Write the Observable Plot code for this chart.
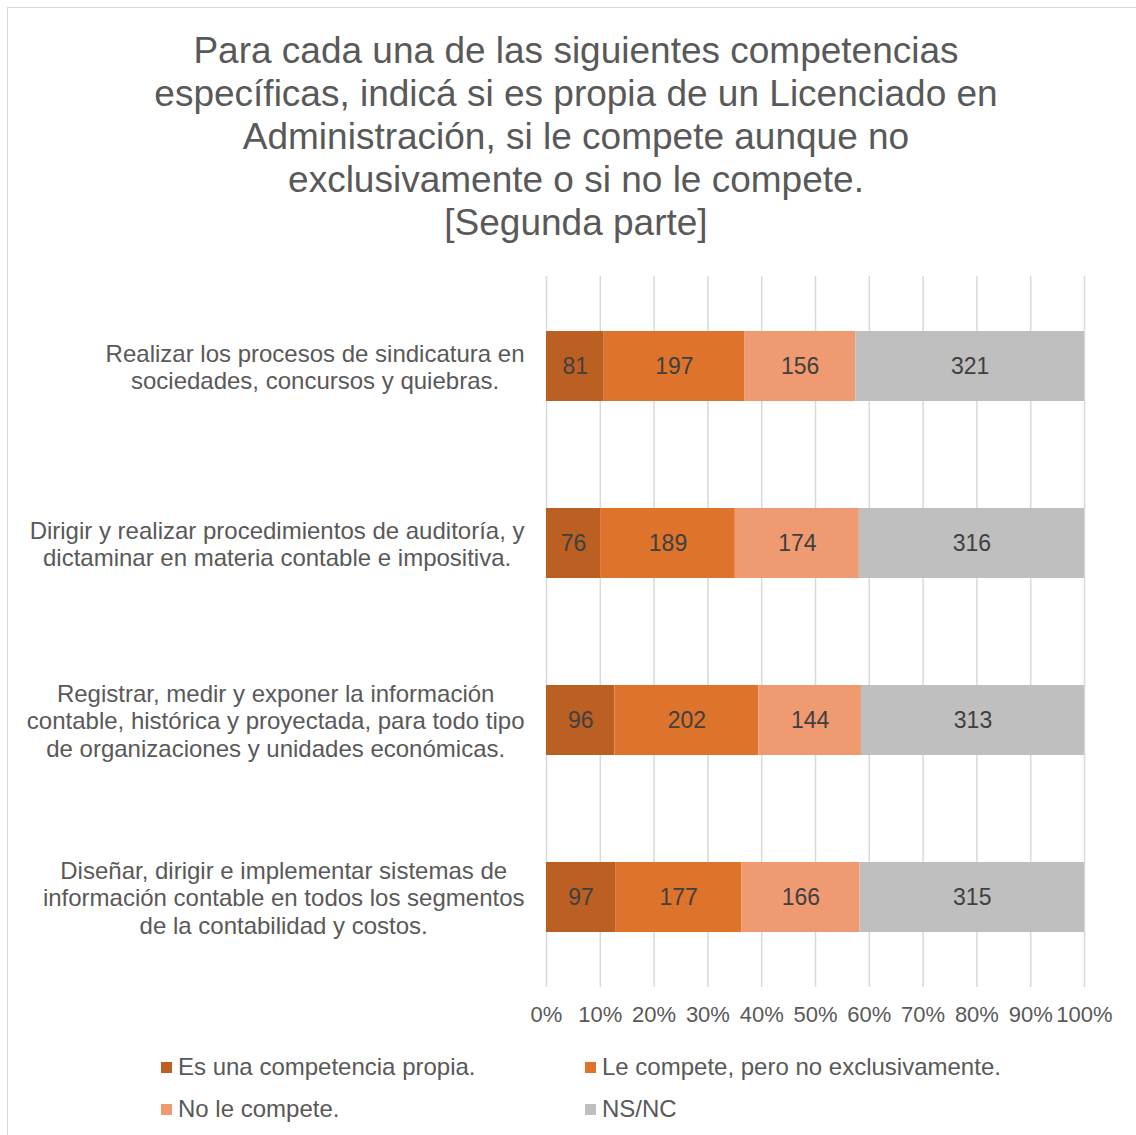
<!DOCTYPE html>
<html>
<head>
<meta charset="utf-8">
<script src="https://cdn.jsdelivr.net/npm/d3@7"></script>
<script src="https://cdn.jsdelivr.net/npm/@observablehq/plot@0.6"></script>
<style>
  html, body { margin: 0; padding: 0; background: #fff; }
  body { width: 1136px; height: 1135px; position: relative; overflow: hidden; font-family: "Liberation Sans", Arial, sans-serif; }
  #frame { position: absolute; left: 7px; top: 7px; width: 1140px; height: 1140px; border: 1px solid #d9d9d9; box-sizing: border-box; }
  #chart { position: absolute; left: 0; top: 0; }
  #title { position: absolute; left: 16px; width: 1120px; top: 29px; text-align: center; color: #595959; font-size: 37px; line-height: 43px; }
  .leg { position: absolute; color: #595959; font-size: 24px; white-space: nowrap; display: flex; align-items: center; }
  .leg span.sw { display: inline-block; width: 11px; height: 11px; margin-right: 6px; }
</style>
</head>
<body>
<div id="frame"></div>
<div id="chart"></div>
<div id="title">Para cada una de las siguientes competencias<br>específicas, indicá si es propia de un Licenciado en<br>Administración, si le compete aunque no<br>exclusivamente o si no le compete.<br>[Segunda parte]</div>
<div id="legend"></div>
<script>
const categories = [
  "Realizar los procesos de sindicatura en\nsociedades, concursos y quiebras.",
  "Dirigir y realizar procedimientos de auditoría, y\ndictaminar en materia contable e impositiva.",
  "Registrar, medir y exponer la información\ncontable, histórica y proyectada, para todo tipo\nde organizaciones y unidades económicas.",
  "Diseñar, dirigir e implementar sistemas de\ninformación contable en todos los segmentos\nde la contabilidad y costos."
];
const seriesNames = [
  "Es una competencia propia.",
  "Le compete, pero no exclusivamente.",
  "No le compete.",
  "NS/NC"
];
const propia     = [81, 76, 96, 97];
const compete    = [197, 189, 202, 177];
const noCompete  = [156, 174, 144, 166];
const nsnc       = [321, 316, 313, 315];
const seriesColors = ["#BC5F23", "#DE732B", "#F09A72", "#BFBFBF"];
const tickValues = [0, 0.1, 0.2, 0.3, 0.4, 0.5, 0.6, 0.7, 0.8, 0.9, 1];
const tickLabels = ["0%", "10%", "20%", "30%", "40%", "50%", "60%", "70%", "80%", "90%", "100%"];

const seriesValues = [propia, compete, noCompete, nsnc];
const data = [];
categories.forEach((c, i) => {
  seriesNames.forEach((s, j) => {
    data.push({cat: c, series: s, value: seriesValues[j][i]});
  });
});

const stackOpts = {offset: "normalize", x: "value", y: "cat", order: seriesNames};

const chart = Plot.plot({
  width: 1136,
  height: 1135,
  marginLeft: 546,
  marginRight: 52,
  marginTop: 276,
  marginBottom: 148,
  style: {fontFamily: "'Liberation Sans', Arial, sans-serif", background: "transparent", overflow: "visible"},
  x: {domain: [0, 1]},
  y: {domain: categories, paddingInner: 0.605, paddingOuter: 0.3025},
  color: {domain: seriesNames, range: seriesColors},
  marks: [
    Plot.gridX(tickValues, {stroke: "#d9d9d9", strokeOpacity: 1, strokeWidth: 1.5}),
    Plot.barX(data, Plot.stackX({...stackOpts, z: "series", fill: "series"})),
    Plot.text(data, Plot.stackX({...stackOpts, z: "series", text: d => String(d.value), fill: "#404040", fontSize: 23})),
    Plot.axisX(tickValues, {tickSize: 0, tickPadding: 19, tickFormat: (d, i) => tickLabels[i], fontSize: 22, fill: "#595959", label: null}),
    Plot.axisY({tickSize: 0, tickPadding: 22, fontSize: 24, fill: "#595959", label: null, lineHeight: 1.15})
  ]
});
document.getElementById("chart").appendChild(chart);

// center multi-line category labels relative to their widest line (right edge kept)
chart.querySelectorAll('g[aria-label="y-axis tick label"] text').forEach(t => {
  const spans = Array.from(t.querySelectorAll("tspan"));
  if (!spans.length) return;
  const widths = spans.map(s => s.getComputedTextLength());
  const maxW = Math.max(...widths);
  spans.forEach((s, k) => s.setAttribute("x", -(maxW - widths[k]) / 2));
});

// legend
const legend = document.getElementById("legend");
const legPos = [[161, 1067], [585, 1067], [161, 1109], [585, 1109]];
seriesNames.forEach((s, i) => {
  const d = document.createElement("div");
  d.className = "leg";
  d.style.left = legPos[i][0] + "px";
  d.style.top = (legPos[i][1] - 14) + "px";
  d.style.height = "28px";
  d.innerHTML = `<span class="sw" style="background:${seriesColors[i]}"></span>${s}`;
  legend.appendChild(d);
});
</script>
</body>
</html>
